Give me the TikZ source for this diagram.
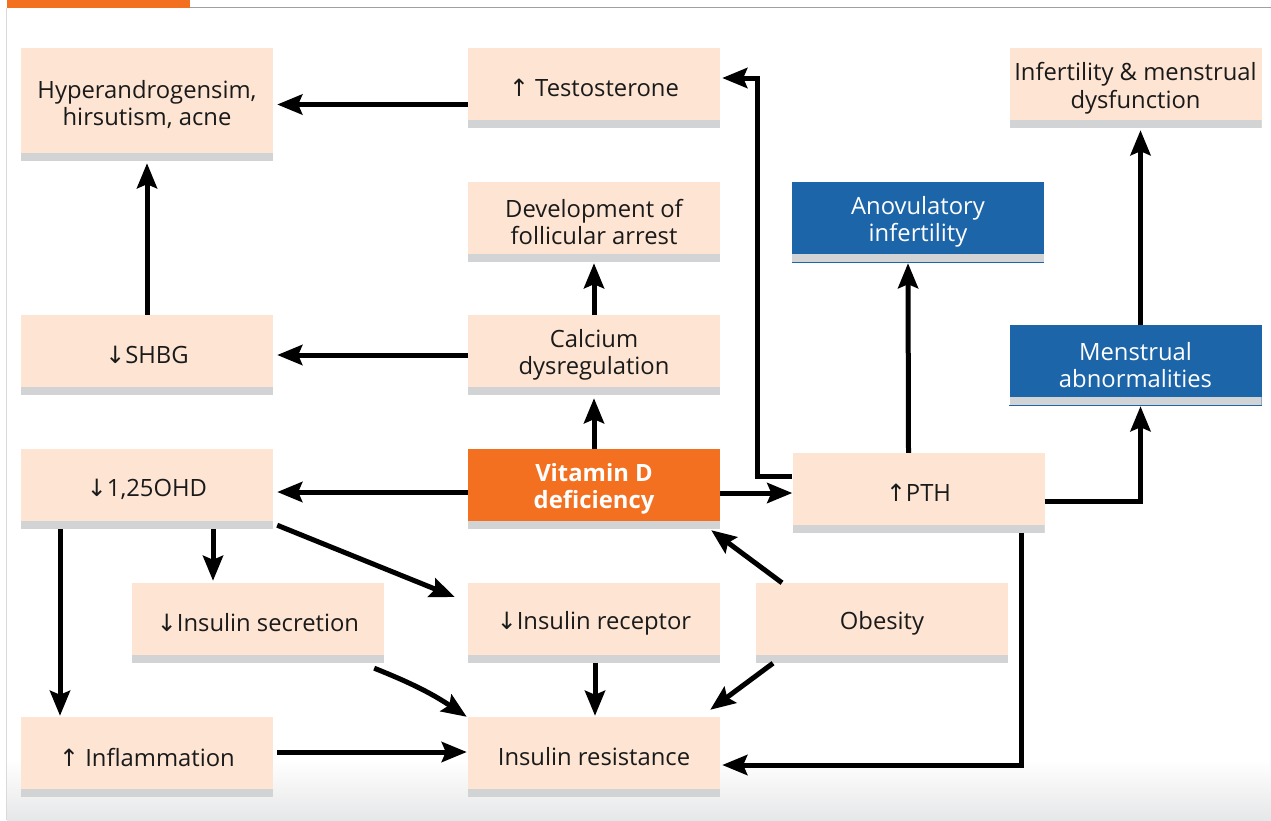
\documentclass[tikz,border=0pt]{standalone}
\usepackage{fontspec}
\setmainfont{Open Sans}
\newfontfamily\arrfont{DejaVu Sans}
\usetikzlibrary{arrows.meta,calc}
\definecolor{peach}{HTML}{FDE4D3}
\definecolor{barg}{HTML}{D1D3D4}
\definecolor{vorange}{HTML}{F37021}
\definecolor{vblue}{HTML}{1C65A8}
\definecolor{txt}{HTML}{1A1A1A}
\definecolor{gbot}{HTML}{E6E7E8}
\definecolor{topline}{HTML}{A0A0A0}
\definecolor{leftline}{HTML}{DADADA}
\newcommand{\uparr}{{\arrfont ↑}}
\newcommand{\dnarr}{{\arrfont ↓}}
\begin{document}
\begin{tikzpicture}[x=1pt,y=-1pt,
  box/.style={rectangle, fill=peach, minimum width=252pt, minimum height=80pt,
    inner sep=0pt, align=center, text=txt, font=\fontsize{23.8}{27.5}\selectfont,
    path picture={\fill[barg] ([yshift=8pt]path picture bounding box.south west)
      rectangle (path picture bounding box.south east);}},
  bluebox/.style={box, fill=vblue, text=white},
  orbox/.style={box, fill=vorange, text=white, font=\fontsize{23.8}{27.5}\selectfont\bfseries},
  conn/.style={line width=5pt, -{Stealth[length=25pt,width=20pt,inset=4pt]}},
]
\useasboundingbox (0,0) rectangle (1271,820);
\fill[white] (0,0) rectangle (1271,820);
\shade[top color=white, bottom color=gbot] (7,760) rectangle (1271,820);
\draw[leftline, line width=1pt] (6.5,8) -- (6.5,820);
\draw[topline, line width=1.2pt] (190,7.5) -- (1271,7.5);
\fill[vorange] (7,0) rectangle (190,8);

% boxes (each includes its grey bottom bar)
\node[box, minimum height=113pt] (Hyper) at (147,104.5) {Hyperandrogensim,\\hirsutism, acne};
\node[box] (Test) at (594,88) {\uparr\ Testosterone};
\node[box] (Infert) at (1135.5,88) {Infertility \& menstrual\\dysfunction};
\node[box] (Dev) at (594,222) {Development of\\follicular arrest};
\node[bluebox] (Anov) at (918,222) {Anovulatory\\infertility};
\node[box] (SHBG) at (147,355) {\dnarr SHBG};
\node[box] (Calc) at (594,355) {Calcium\\dysregulation};
\node[bluebox] (Mens) at (1135.5,365) {Menstrual\\abnormalities};
\node[box] (OHD) at (147,489) {\dnarr 1,25OHD};
\node[orbox] (VitD) at (594,489) {Vitamin D\\deficiency};
\node[box] (PTH) at (918.5,493) {\uparr PTH};
\node[box] (InsSec) at (258,623) {\dnarr Insulin secretion};
\node[box] (InsRec) at (594,623) {\dnarr Insulin receptor};
\node[box] (Obes) at (882,623) {Obesity};
\node[box] (Infl) at (147,757) {\uparr\ Inflammation};
\node[box] (InsRes) at (594,757) {Insulin resistance};

\foreach \n in {Anov,Mens}
  \draw[vblue, line width=1pt] ([yshift=-0.5pt]\n.south west) -- ([yshift=-0.5pt]\n.south east);

% connectors
\draw[conn] (Test.west |- Hyper.east) -- ($(Hyper.east)+(4,0)$);
\draw[conn] (SHBG.north) -- ($(Hyper.south)+(0,2)$);
\draw[conn] (Calc.west) -- ($(SHBG.east)+(4,0)$);
\draw[conn] (Calc.north) -- ($(Dev.south)+(0,1)$);
\draw[conn] (VitD.north) -- ($(Calc.south)+(0,3)$);
\draw[conn] ($(VitD.west)+(0,3)$) -- ($(OHD.east)+(4,3)$);
\draw[conn] ($(VitD.east)+(0,4)$) -- (PTH.west);
\draw[conn] (PTH.west |- 0,476) -| (757,78) -- ($(Test.east)+(2,-10)$);
\draw[conn] ($(PTH.north)+(-10,0)$) -- ($(Anov.south)+(-10,1)$);
\draw[conn] (PTH.east |- 0,501) -| ($(Mens.south)+(5,1)$);
\draw[conn] ($(Mens.north)+(5,0)$) -- ($(Infert.south)+(5,2)$);
\draw[conn] ($(PTH.south)+(102.5,0)$) |- ($(InsRes.east)+(2,8)$);
\draw[conn] ($(Obes.north)+(-100,0)$) -- ($(VitD.south east)+(-9,1)$);
\draw[conn] ($(Obes.south)+(-109,0)$) -- ($(InsRes.north east)+(-10,-7)$);
\draw[conn] ($(OHD.south)+(66,0)$) -- ($(InsSec.north)+(-45,-2)$);
\draw[conn] ($(OHD.south east)+(4,-4)$) -- ($(InsRec.west)+(-13,-26)$);
\draw[conn] ($(OHD.south)+(-87,0)$) -- ($(Infl.north)+(-87,-1)$);
\draw[conn] ($(InsSec.south east)+(-10,5)$) to[bend left=6] ($(InsRes.north west)+(-1,0)$);
\draw[conn] ($(InsRec.south)+(1,0)$) -- ($(InsRes.north)+(1,-1)$);
\draw[conn] ($(Infl.east)+(4,-5)$) -- ($(InsRes.west)+(-1,-5)$);
\end{tikzpicture}
\end{document}
